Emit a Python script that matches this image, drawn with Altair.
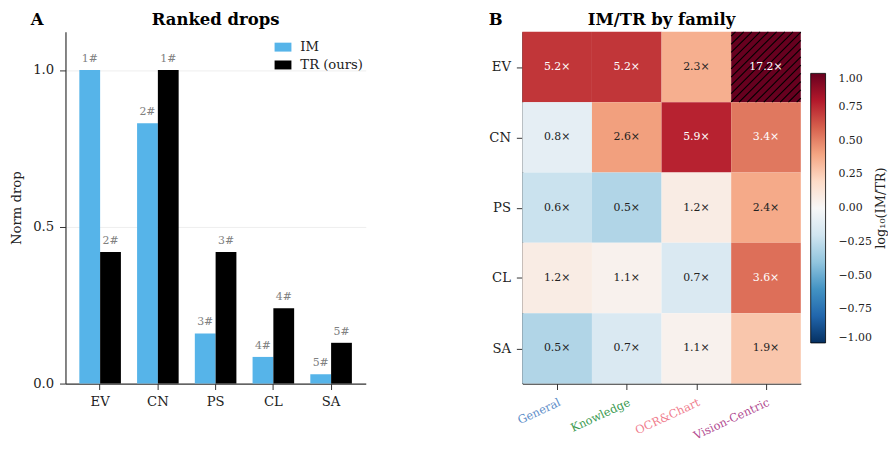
import altair as alt
import numpy as np
import pandas as pd

FONT = "DejaVu Serif"

# ---------------- Panel A data ----------------
tasks = ["EV", "CN", "PS", "CL", "SA"]
series = ["IM", "TR (ours)"]
im_drop = [1.0, 0.83, 0.16, 0.085, 0.03]
tr_drop = [0.42, 1.0, 0.42, 0.24, 0.13]
im_rank = ["1#", "2#", "3#", "4#", "5#"]
tr_rank = ["2#", "1#", "3#", "4#", "5#"]
y_ticks = [0.0, 0.5, 1.0]
series_colors = ["#56B4E9", "#000000"]

# ---------------- Panel B data ----------------
rows = ["EV", "CN", "PS", "CL", "SA"]
families = ["General", "Knowledge", "OCR&Chart", "Vision-Centric"]
family_colors = ["#5b8cc8", "#3a9a4f", "#f07b8c", "#b0488f"]
ratio_EV = [5.2, 5.2, 2.3, 17.2]
ratio_CN = [0.8, 2.6, 5.9, 3.4]
ratio_PS = [0.6, 0.5, 1.2, 2.4]
ratio_CL = [1.2, 1.1, 0.7, 3.6]
ratio_SA = [0.5, 0.7, 1.1, 1.9]
cbar_ticks = [1.0, 0.75, 0.5, 0.25, 0.0, -0.25, -0.5, -0.75, -1.0]
rdbu_r = ["#053061", "#2166ac", "#4393c3", "#92c5de", "#d1e5f0", "#f7f7f7",
          "#fddbc7", "#f4a582", "#d6604d", "#b2182b", "#67001f"]

# ---------------- Panel A ----------------
WA, HA = 303, 355
dfA = pd.DataFrame({
    "task": tasks * 2,
    "series": [series[0]] * len(tasks) + [series[1]] * len(tasks),
    "drop": im_drop + tr_drop,
    "rank": im_rank + tr_rank,
})

x_enc = alt.X(
    "task:N", sort=tasks, title=None,
    scale=alt.Scale(paddingInner=0.28, paddingOuter=0.24),
    axis=alt.Axis(labelAngle=0, labelFont=FONT, labelFontSize=13.3, labelColor="#222",
                  labelPadding=5, tickSize=6, tickColor="#333", domainColor="#333",
                  domainWidth=1.2, tickWidth=1),
)
xo = alt.XOffset("series:N", sort=series)
y_enc = alt.Y(
    "drop:Q",
    scale=alt.Scale(domain=[0, 1.122], nice=False),
    axis=alt.Axis(values=y_ticks, format=".1f", title="Norm drop", titleFont=FONT,
                  titleFontSize=13.3, titleFontWeight="normal", titleColor="#222",
                  titlePadding=9, labelFont=FONT, labelFontSize=13.3, labelColor="#222",
                  labelPadding=6, tickSize=6, tickColor="#333", domainColor="#333",
                  domainWidth=1.2, grid=True, gridColor="#ebebeb", gridWidth=0.8),
)

bars = alt.Chart(dfA).mark_bar().encode(
    x=x_enc, xOffset=xo, y=y_enc,
    color=alt.Color(
        "series:N", sort=series,
        scale=alt.Scale(domain=series, range=series_colors),
        legend=alt.Legend(title=None, orient="none", legendX=211, legendY=7,
                          symbolType="M-1,-0.53H1V0.53H-1Z", symbolSize=289,
                          symbolStrokeWidth=0, symbolOpacity=1, labelFont=FONT,
                          labelFontSize=13.3, labelColor="#222", labelOffset=9,
                          rowPadding=3, padding=0),
    ),
)
ranks = alt.Chart(dfA).mark_text(
    font=FONT, fontSize=11, color="#808080", dy=-8, baseline="alphabetic"
).encode(x=alt.X("task:N", sort=tasks), xOffset=xo, y="drop:Q", text="rank:N")

titleA = alt.Chart(pd.DataFrame({"t": ["Ranked drops"]})).mark_text(
    font=FONT, fontSize=16.6, fontWeight="bold", align="center", baseline="alphabetic"
).encode(text="t:N", x=alt.value(WA / 2), y=alt.value(-7))
letterA = alt.Chart(pd.DataFrame({"t": ["A"]})).mark_text(
    font=FONT, fontSize=16.6, fontWeight="bold", align="left", baseline="alphabetic"
).encode(text="t:N", x=alt.value(-35), y=alt.value(-7))

panelA = alt.layer(bars, ranks, titleA, letterA).properties(width=WA, height=HA)

# ---------------- Panel B ----------------
WB, HB = 281, 355
ratio_rows = [ratio_EV, ratio_CN, ratio_PS, ratio_CL, ratio_SA]
cells = []
for ri, (rname, vals) in enumerate(zip(rows, ratio_rows)):
    for ci, (fam, v) in enumerate(zip(families, vals)):
        raw = float(np.log10(v))
        cells.append(dict(row=rname, fam=fam, x0=ci, x1=ci + 1, xm=ci + 0.5,
                          y0=ri, y1=ri + 1, ym=ri + 0.5, ratio=v,
                          lg=float(np.clip(raw, -1, 1)), raw=raw,
                          lab=f"{v:.1f}\u00d7"))
dfB = pd.DataFrame(cells)

# hatch for clipped cells (|log10| > 1)
cw, chh = WB / len(families), HB / len(rows)
sp = 8.3
segs = []
for c in cells:
    if abs(c["raw"]) <= 1:
        continue
    for off in np.arange(-cw + sp / 2, chh, sp):
        u0, u1 = max(0.0, -off), min(cw, chh - off)
        if u1 <= u0:
            continue
        segs.append(dict(hx0=c["x0"] + u0 / cw, hx1=c["x0"] + u1 / cw,
                         hy0=c["y1"] - (u0 + off) / chh, hy1=c["y1"] - (u1 + off) / chh))
dfH = pd.DataFrame(segs)

fam_arr = "[" + ",".join("'" + f + "'" for f in families) + "]"
col_arr = "[" + ",".join("'" + f + "'" for f in family_colors) + "]"
row_arr = "[" + ",".join("'" + r + "'" for r in rows) + "]"

xB = alt.X(
    "x0:Q", scale=alt.Scale(domain=[0, len(families)], nice=False, zero=False),
    axis=alt.Axis(values=[i + 0.5 for i in range(len(families))], title=None,
                  labelExpr=f"{fam_arr}[floor(datum.value)]",
                  labelColor={"expr": f"{col_arr}[floor(datum.value)]"},
                  labelAngle=-25, labelAlign="right", labelBaseline="top",
                  labelFont=FONT, labelFontSize=11.5, labelPadding=7, labelOverlap=False,
                  grid=False, tickSize=6, tickColor="#333", domainColor="#333",
                  domainWidth=1.2),
)
yB = alt.Y(
    "y0:Q", scale=alt.Scale(domain=[0, len(rows)], nice=False, zero=False, reverse=True),
    axis=alt.Axis(values=[i + 0.5 for i in range(len(rows))], title=None,
                  labelExpr=f"{row_arr}[floor(datum.value)]",
                  labelFont=FONT, labelFontSize=13.3, labelColor="#222", labelPadding=6,
                  grid=False, tickSize=6, tickColor="#333", domainColor="#333",
                  domainWidth=1.2),
)

heat = alt.Chart(dfB).mark_rect().encode(
    x=xB, x2="x1:Q", y=yB, y2="y1:Q",
    color=alt.Color(
        "lg:Q",
        scale=alt.Scale(domain=[float(d) for d in np.linspace(-1, 1, 11)], range=rdbu_r,
                        interpolate="rgb", clamp=True),
        legend=alt.Legend(title=None, orient="none", legendX=291, legendY=42,
                          direction="vertical", gradientLength=272, gradientThickness=15,
                          gradientStrokeColor="#000", gradientStrokeWidth=0.8,
                          values=cbar_ticks, format=".2f", labelFont=FONT,
                          labelFontSize=11, labelColor="#222", labelOffset=13,
                          labelBaseline="middle", labelOverlap=False, padding=0),
    ),
)
hatch = alt.Chart(dfH).mark_rule(color="black", strokeWidth=1.1).encode(
    x="hx0:Q", x2="hx1:Q", y="hy0:Q", y2="hy1:Q"
)
ctext = alt.Chart(dfB).mark_text(font=FONT, fontSize=11).encode(
    x="xm:Q", y="ym:Q", text="lab:N",
    color=alt.condition("abs(datum.lg) > 0.5", alt.value("white"), alt.value("#222")),
)
titleB = alt.Chart(pd.DataFrame({"t": ["IM/TR by family"]})).mark_text(
    font=FONT, fontSize=16.6, fontWeight="bold", align="center", baseline="alphabetic"
).encode(text="t:N", x=alt.value(WB / 2), y=alt.value(-7))
letterB = alt.Chart(pd.DataFrame({"t": ["B"]})).mark_text(
    font=FONT, fontSize=16.6, fontWeight="bold", align="left", baseline="alphabetic"
).encode(text="t:N", x=alt.value(-34), y=alt.value(-7))
cbar_title = alt.Chart(pd.DataFrame({"t": ["log\u2081\u2080(IM/TR)"]})).mark_text(
    font=FONT, fontSize=13, color="#222", angle=270, align="center", baseline="middle"
).encode(text="t:N", x=alt.value(362), y=alt.value(178))

panelB = alt.layer(heat, hatch, ctext, titleB, letterB, cbar_title).properties(
    width=WB, height=HB)

chart = alt.hconcat(panelA, panelB, spacing=124).properties(
    padding={"left": 1, "top": 2, "right": 0, "bottom": 0}
).configure(font=FONT).configure_view(strokeWidth=0, stroke="transparent")

chart.save("out.html", embed_options={"renderer": "svg", "actions": False})
